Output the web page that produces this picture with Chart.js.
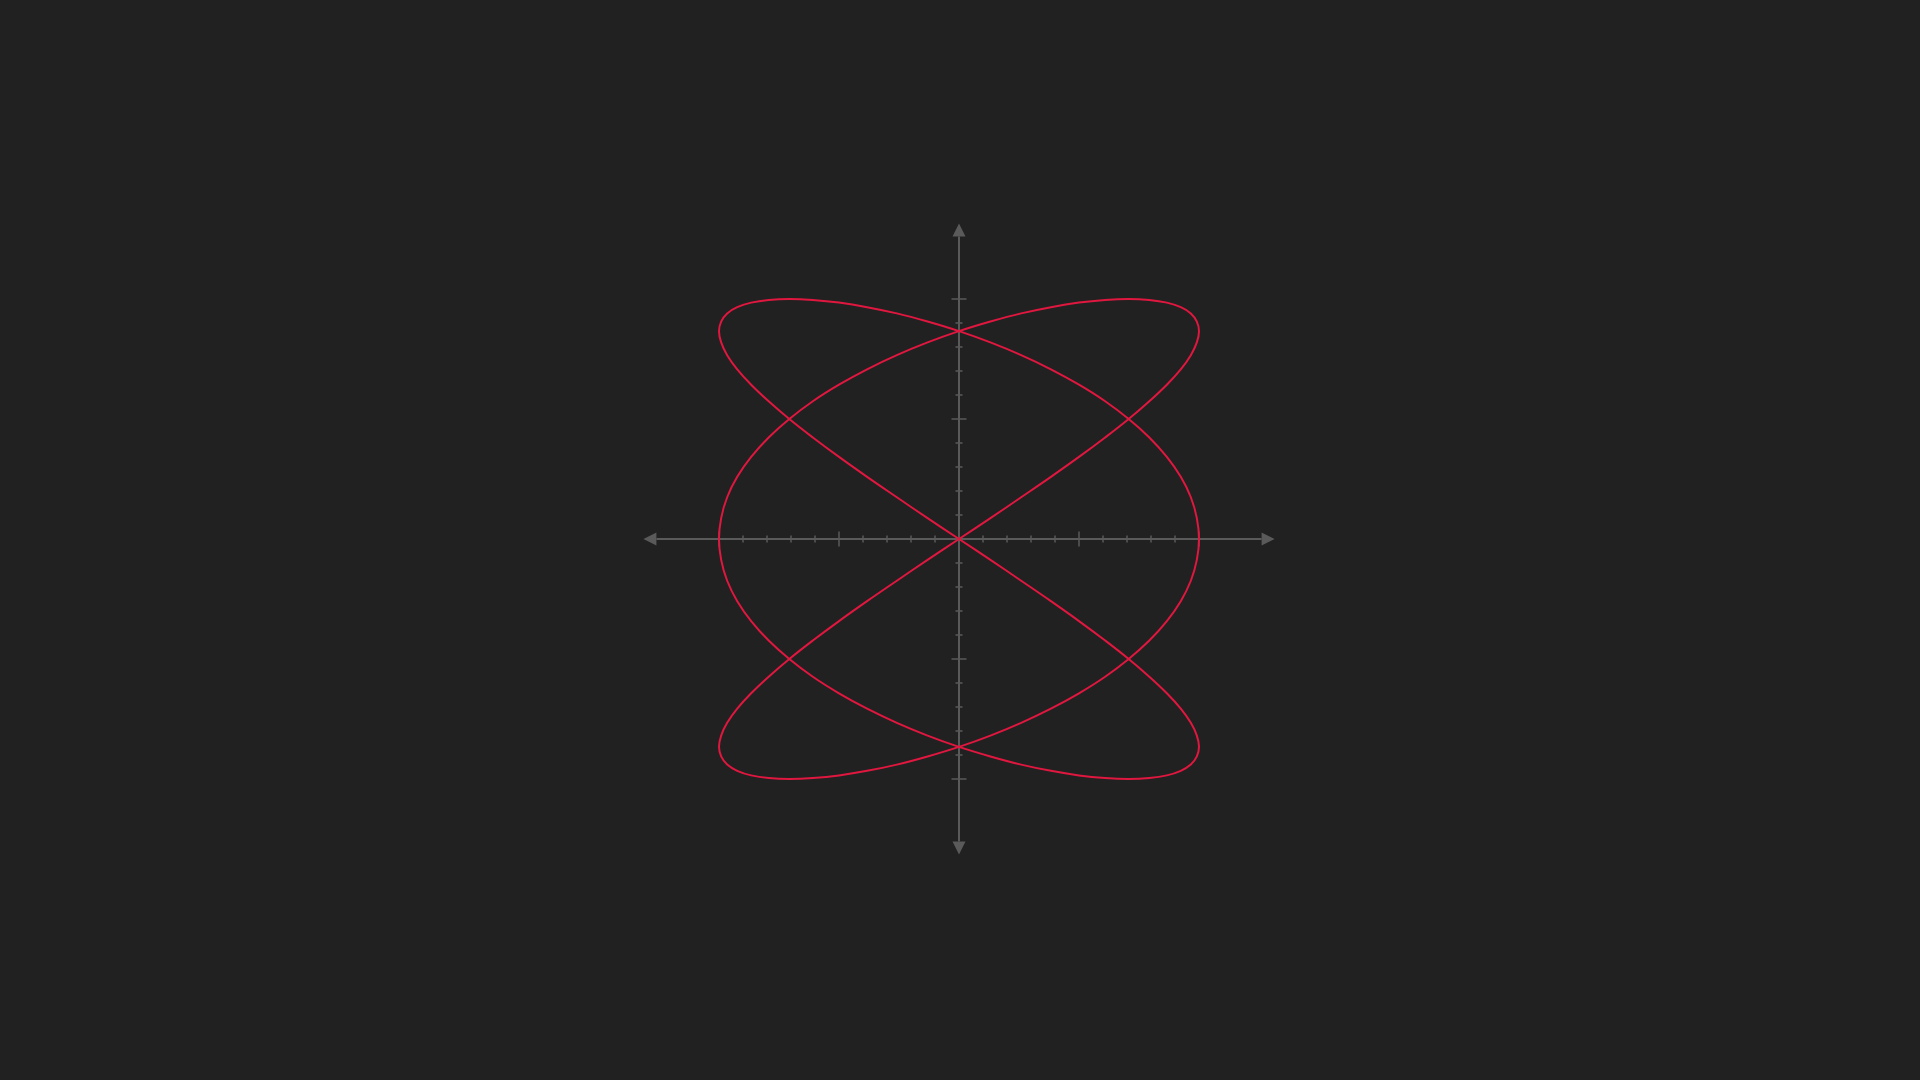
<!DOCTYPE html>
<html>
<head>
<meta charset="utf-8">
<script src="https://cdn.jsdelivr.net/npm/chart.js@4.4.1/dist/chart.umd.min.js"></script>
<style>
  html, body { margin: 0; padding: 0; background: #212121; width: 1920px; height: 1080px; overflow: hidden; }
  #wrap { position: absolute; left: 639px; top: 219px; width: 640px; height: 640px; }
</style>
</head>
<body>
<div id="wrap"><canvas id="curve" width="640" height="640"></canvas></div>
<script>
// points (3:2 figure), walked round the whole loop
const xValues = [
  0, .131, .259, .383, .5, .609, .707, .793, .866, .924, .966, .991, 1, .991, .966, .924, .866, .793, .707, .609, .5, .383, .259, .131,
  0, -.131, -.259, -.383, -.5, -.609, -.707, -.793, -.866, -.924, -.966, -.991, -1, -.991, -.966, -.924, -.866, -.793, -.707, -.609, -.5, -.383, -.259, -.131,
  0, .131, .259, .383, .5, .609, .707, .793, .866, .924, .966, .991, 1, .991, .966, .924, .866, .793, .707, .609, .5, .383, .259, .131,
  0, -.131, -.259, -.383, -.5, -.609, -.707, -.793, -.866, -.924, -.966, -.991, -1, -.991, -.966, -.924, -.866, -.793, -.707, -.609, -.5, -.383, -.259, -.131,
  0, .131, .259, .383, .5, .609, .707, .793, .866, .924, .966, .991, 1, .991, .966, .924, .866, .793, .707, .609, .5, .383, .259, .131,
  0, -.131, -.259, -.383, -.5, -.609, -.707, -.793, -.866, -.924, -.966, -.991, -1, -.991, -.966, -.924, -.866, -.793, -.707, -.609, -.5, -.383, -.259, -.131,
  0]
const yValues = [
  0, .087, .174, .259, .342, .423, .5, .574, .643, .707, .766, .819, .866, .906, .94, .966, .985, .996, 1, .996, .985, .966, .94, .906, .866, .819, .766, .707, .643, .574, .5, .423, .342, .259, .174, .087,
  0, -.087, -.174, -.259, -.342, -.423, -.5, -.574, -.643, -.707, -.766, -.819, -.866, -.906, -.94, -.966, -.985, -.996, -1, -.996, -.985, -.966, -.94, -.906, -.866, -.819, -.766, -.707, -.643, -.574, -.5, -.423, -.342, -.259, -.174, -.087,
  0, .087, .174, .259, .342, .423, .5, .574, .643, .707, .766, .819, .866, .906, .94, .966, .985, .996, 1, .996, .985, .966, .94, .906, .866, .819, .766, .707, .643, .574, .5, .423, .342, .259, .174, .087,
  0, -.087, -.174, -.259, -.342, -.423, -.5, -.574, -.643, -.707, -.766, -.819, -.866, -.906, -.94, -.966, -.985, -.996, -1, -.996, -.985, -.966, -.94, -.906, -.866, -.819, -.766, -.707, -.643, -.574, -.5, -.423, -.342, -.259, -.174, -.087,
  0]

const majorTicks = [-1, -0.5, 0.5, 1]
const minorTicks = [-0.9, -0.8, -0.7, -0.6, -0.4, -0.3, -0.2, -0.1, 0.1, 0.2, 0.3, 0.4, 0.6, 0.7, 0.8, 0.9]
const axisEnd = 1.315

let points = xValues.map((x, i) => ({ x: x, y: yValues[i] }))

const axesPlugin = {
  id: 'crossAxes',
  beforeDatasetsDraw(chart) {
    let ctx = chart.ctx
    let sx = chart.scales.x
    let sy = chart.scales.y
    let cx = sx.getPixelForValue(0)
    let cy = sy.getPixelForValue(0)
    let left = sx.getPixelForValue(-axisEnd), right = sx.getPixelForValue(axisEnd)
    let top = sy.getPixelForValue(axisEnd), bottom = sy.getPixelForValue(-axisEnd)
    let col = '#5a5a5a'
    let head = 13, half = 6.5
    ctx.save()
    ctx.strokeStyle = col
    ctx.fillStyle = col
    ctx.lineWidth = 2
    ctx.beginPath()
    ctx.moveTo(left + head, cy); ctx.lineTo(right - head, cy)
    ctx.moveTo(cx, top + head); ctx.lineTo(cx, bottom - head)
    ctx.stroke()
    // arrow heads
    ctx.beginPath()
    ctx.moveTo(right, cy); ctx.lineTo(right - head, cy - half); ctx.lineTo(right - head, cy + half); ctx.closePath()
    ctx.moveTo(left, cy); ctx.lineTo(left + head, cy - half); ctx.lineTo(left + head, cy + half); ctx.closePath()
    ctx.moveTo(cx, top); ctx.lineTo(cx - half, top + head); ctx.lineTo(cx + half, top + head); ctx.closePath()
    ctx.moveTo(cx, bottom); ctx.lineTo(cx - half, bottom - head); ctx.lineTo(cx + half, bottom - head); ctx.closePath()
    ctx.fill()
    // ticks
    ctx.lineWidth = 1.5
    ctx.beginPath()
    minorTicks.forEach(v => {
      let px = sx.getPixelForValue(v), py = sy.getPixelForValue(v)
      ctx.moveTo(px, cy - 3.5); ctx.lineTo(px, cy + 3.5)
      ctx.moveTo(cx - 3.5, py); ctx.lineTo(cx + 3.5, py)
    })
    majorTicks.forEach(v => {
      let px = sx.getPixelForValue(v), py = sy.getPixelForValue(v)
      ctx.moveTo(px, cy - 7.5); ctx.lineTo(px, cy + 7.5)
      ctx.moveTo(cx - 7.5, py); ctx.lineTo(cx + 7.5, py)
    })
    ctx.stroke()
    ctx.restore()
  }
}

new Chart(document.getElementById('curve'), {
  type: 'scatter',
  data: {
    datasets: [{
      data: points,
      showLine: true,
      borderColor: '#e0173f',
      borderWidth: 2,
      pointRadius: 0,
      tension: 0.4,
      fill: false
    }]
  },
  options: {
    responsive: false,
    animation: false,
    layout: { padding: 0 },
    plugins: { legend: { display: false }, tooltip: { enabled: false } },
    scales: {
      x: { type: 'linear', min: -4 / 3, max: 4 / 3, display: false },
      y: { type: 'linear', min: -4 / 3, max: 4 / 3, display: false }
    }
  },
  plugins: [axesPlugin]
})
</script>
</body>
</html>
